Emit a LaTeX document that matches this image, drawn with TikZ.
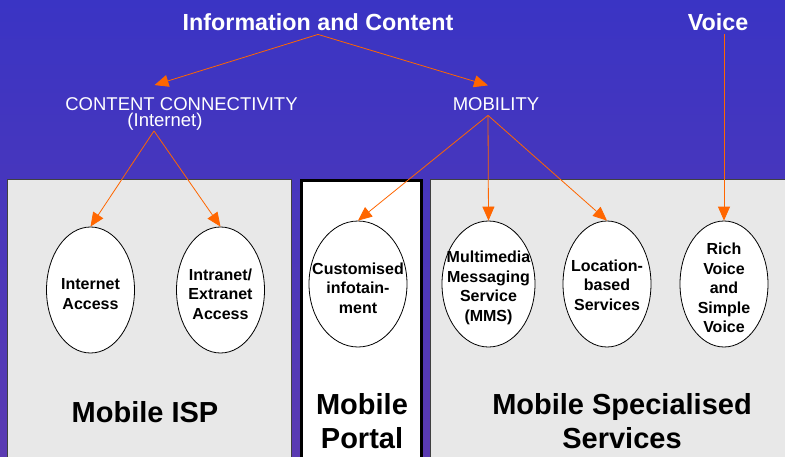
\documentclass[tikz,border=0pt]{standalone}
\usepackage{xcolor}
\usepackage{tikz}
\usepackage{fontspec}
\setmainfont{Liberation Sans}
\usetikzlibrary{arrows.meta}
\usepgflibrary{shapes}
\definecolor{bgtop}{RGB}{58,52,196}
\definecolor{bgbot}{RGB}{90,58,178}
\definecolor{arrorange}{RGB}{255,102,0}
\definecolor{boxgray}{RGB}{232,232,232}

\begin{document}
\begin{tikzpicture}[x=1pt, y=-1pt,
  main/.style = {draw, ellipse, fill=white, line width=0.8pt, minimum width=88pt, minimum height=126pt, inner sep=0pt},
  txt/.style = {align=center, inner sep=0pt, yshift=-4pt, font=\fontsize{16}{19.5}\selectfont\bfseries},
  head/.style = {text=white, anchor=base, inner sep=4pt, font=\fontsize{23.3}{26}\selectfont\bfseries},
  sub/.style = {text=white, align=center, inner sep=0pt, font=\fontsize{18.5}{16.7}\selectfont},
  area/.style = {draw=black!75, fill=boxgray, line width=1pt},
  big/.style = {align=center, inner sep=0pt, font=\fontsize{29}{34}\selectfont\bfseries},
  arr/.style = {draw=arrorange, line width=0.8pt, -{Triangle[length=14pt,width=12pt]}}]
	\useasboundingbox (0,0) rectangle (785,456);
	\shade[top color=bgtop, bottom color=bgbot] (0,0) rectangle (785,456);
	% the three areas
	\begin{scope}
		\clip (0,0) rectangle (785,456);
		\draw[area] (7,179) rectangle (291,470);
		\draw[line width=3pt, fill=white] (301,180) rectangle (421,470);
		\draw[area] (430,179) rectangle (800,470);
	\end{scope}
	\node[big, anchor=base] (isp) at (145,422) {Mobile ISP};
	\node[big] (portal) at (362,421.5) {Mobile\\Portal};
	\node[big] (mss) at (622,421.5) {Mobile Specialised\\Services};
	% headings
	\node[head] (info) at (318,30) {Information and Content};
	\node[head] (voice) at (718,30) {Voice};
	\node[sub] (cc) at (181.5,114) {CONTENT CONNECTIVITY\\(Internet)\hspace*{33pt}};
	\node[sub, anchor=base] (mob) at (496,110) {MOBILITY};
	% services
	\node[main, label={[txt]center:Internet\\Access}] (ia) at (90.5,290) {};
	\node[main, label={[txt]center:Intranet/\\Extranet\\Access}] (iea) at (220.5,290) {};
	\node[main, minimum width=98pt, label={[txt]center:Customised\\infotain-\\ment}] (ci) at (358,284) {};
	\node[main, minimum width=93pt, label={[txt]center:Multimedia\\Messaging\\Service\\(MMS)}] (mms) at (488.5,284) {};
	\node[main, label={[txt, yshift=3pt]center:Location-\\based\\Services}] (lbs) at (607,284) {};
	\node[main, label={[txt]center:Rich\\Voice\\and\\Simple\\Voice}] (rv) at (724,284) {};
	% connectors
	\draw[arr] (info.south) -- ([shift={(-27pt,12pt)}]cc.north);
	\draw[arr] (info.south) -- ([shift={(-8pt,11.5pt)}]mob.north);
	\draw[arr] ([xshift=-27.5pt]cc.south) -- (ia.north);
	\draw[arr] ([xshift=-27.5pt]cc.south) -- (iea.north);
	\draw[arr] ([shift={(-8pt,-5pt)}]mob.south) -- (ci.north);
	\draw[arr] ([shift={(-8pt,-5pt)}]mob.south) -- (mms.north);
	\draw[arr] ([shift={(-8pt,-5pt)}]mob.south) -- (lbs.north);
	\draw[arr] (rv.north |- voice.south) -- (rv.north);
\end{tikzpicture}
\end{document}
